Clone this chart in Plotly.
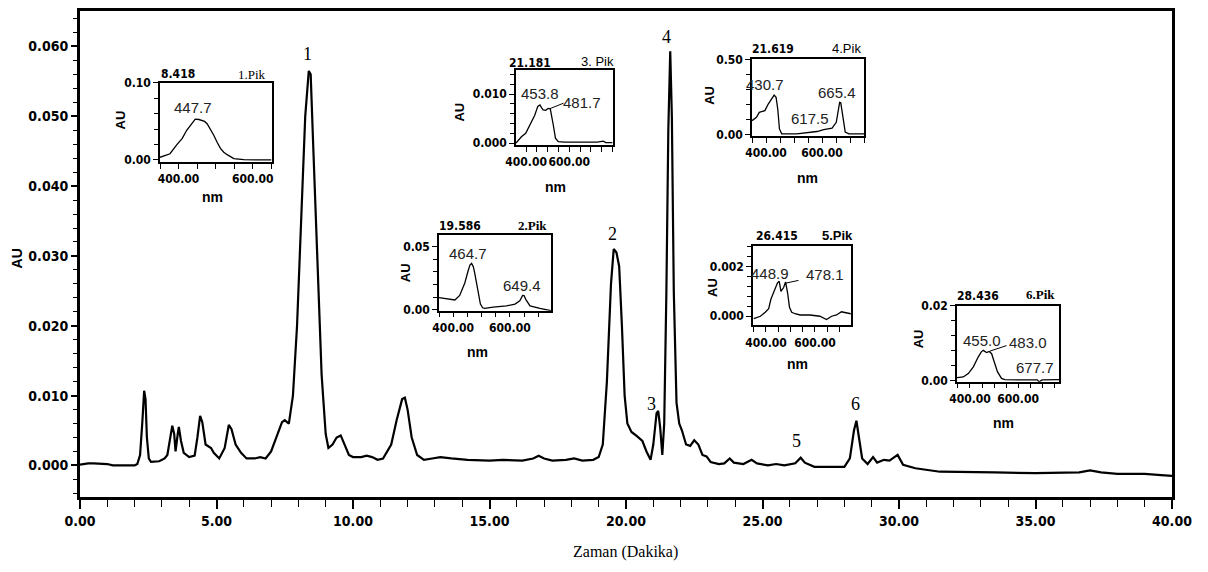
import plotly.graph_objects as go

# ---------------- main chromatogram ----------------
time_min = [0.00, 0.30, 0.50, 1.00, 1.20, 2.00, 2.10, 2.20, 2.28, 2.35, 2.40, 2.45, 2.52, 2.60,
            2.90, 3.10, 3.20, 3.30, 3.38, 3.45, 3.50, 3.58, 3.62, 3.70, 3.80, 4.00, 4.20, 4.30,
            4.40, 4.48, 4.60, 4.80, 4.90, 5.10, 5.30, 5.45, 5.55, 5.70, 5.90, 6.10, 6.40, 6.60,
            6.80, 7.00, 7.20, 7.40, 7.50, 7.65, 7.80, 7.95, 8.10, 8.25, 8.38, 8.45, 8.55, 8.70,
            8.85, 9.00, 9.10, 9.25, 9.40, 9.55, 9.70, 9.85, 10.00, 10.30, 10.50, 10.70, 10.90,
            11.10, 11.40, 11.60, 11.80, 11.90, 12.00, 12.15, 12.35, 12.60, 12.90, 13.20, 13.60,
            14.20, 15.00, 15.50, 16.20, 16.60, 16.80, 17.00, 17.30, 17.80, 18.10, 18.40, 18.80,
            19.00, 19.15, 19.30, 19.45, 19.55, 19.65, 19.75, 19.85, 19.95, 20.05, 20.20, 20.40,
            20.60, 20.75, 20.90, 21.00, 21.12, 21.18, 21.25, 21.33, 21.40, 21.48, 21.55, 21.62,
            21.68, 21.75, 21.85, 21.95, 22.05, 22.20, 22.35, 22.50, 22.65, 22.80, 22.95, 23.10,
            23.40, 23.60, 23.80, 23.95, 24.30, 24.60, 24.80, 25.20, 25.50, 25.80, 26.20, 26.40,
            26.55, 26.90, 27.50, 28.00, 28.20, 28.35, 28.44, 28.52, 28.65, 28.85, 29.05, 29.20,
            29.45, 29.65, 29.95, 30.15, 30.60, 31.50, 32.50, 33.50, 35.00, 36.00, 36.60, 37.00,
            37.40, 38.00, 39.00, 39.60, 40.00]
absorbance = [0.0001, 0.0003, 0.0003, 0.0002, 0.0000, 0.0000, 0.0002, 0.0015, 0.0060, 0.0107,
              0.0095, 0.0040, 0.0010, 0.0005, 0.0006, 0.0010, 0.0015, 0.0040, 0.0057, 0.0045,
              0.0020, 0.0045, 0.0055, 0.0035, 0.0018, 0.0012, 0.0014, 0.0040, 0.0071, 0.0062,
              0.0030, 0.0025, 0.0018, 0.0010, 0.0025, 0.0058, 0.0052, 0.0030, 0.0018, 0.0010,
              0.0010, 0.0012, 0.0010, 0.0020, 0.0040, 0.0062, 0.0065, 0.0060, 0.0100, 0.0200,
              0.0350, 0.0500, 0.0565, 0.0560, 0.0450, 0.0280, 0.0130, 0.0045, 0.0025, 0.0030,
              0.0040, 0.0043, 0.0030, 0.0015, 0.0012, 0.0012, 0.0014, 0.0012, 0.0008, 0.0010,
              0.0030, 0.0065, 0.0095, 0.0097, 0.0080, 0.0040, 0.0015, 0.0008, 0.0010, 0.0012,
              0.0010, 0.0008, 0.0007, 0.0008, 0.0007, 0.0010, 0.0014, 0.0010, 0.0007, 0.0008,
              0.0010, 0.0007, 0.0008, 0.0012, 0.0030, 0.0120, 0.0260, 0.0310, 0.0305, 0.0285,
              0.0200, 0.0100, 0.0060, 0.0048, 0.0042, 0.0035, 0.0020, 0.0008, 0.0030, 0.0075,
              0.0078, 0.0055, 0.0015, 0.0060, 0.0250, 0.0480, 0.0593, 0.0500, 0.0250, 0.0090,
              0.0060, 0.0050, 0.0030, 0.0028, 0.0036, 0.0030, 0.0015, 0.0013, 0.0005, 0.0002,
              0.0003, 0.0010, 0.0004, 0.0002, 0.0008, 0.0003, 0.0000, 0.0002, 0.0000, 0.0003,
              0.0011, 0.0004, -0.0002, -0.0002, -0.0002, 0.0010, 0.0050, 0.0064, 0.0045, 0.0010,
              0.0002, 0.0012, 0.0004, 0.0008, 0.0007, 0.0015, 0.0001, -0.0004, -0.0009, -0.0009,
              -0.0010, -0.0011, -0.0011, -0.0010, -0.0007, -0.0010, -0.0012, -0.0012, -0.0014,
              -0.0015]

x_tick_vals = [0, 5, 10, 15, 20, 25, 30, 35, 40]
x_tick_text = ["0.00", "5.00", "10.00", "15.00", "20.00", "25.00", "30.00", "35.00", "40.00"]
y_tick_vals = [0.0, 0.01, 0.02, 0.03, 0.04, 0.05, 0.06]
y_tick_text = ["0.000", "0.010", "0.020", "0.030", "0.040", "0.050", "0.060"]

peak_ids = ["1", "2", "3", "4", "5", "6"]
peak_label_t = [8.35, 19.49, 20.95, 21.50, 26.23, 28.42]
peak_label_au = [0.0589, 0.0332, 0.0088, 0.0614, 0.0035, 0.0088]

# ---------------- inset UV-Vis spectra ----------------
retention_times = ["8.418", "19.586", "21.181", "21.619", "26.415", "28.436"]
pik_titles = ["1.Pik", "2.Pik", "3. Pik", "4.Pik", "5.Pik", "6.Pik"]

spec1_nm = [350, 377, 395, 410, 422, 435, 445, 455, 463, 470, 477, 486, 495, 504, 513, 522, 531,
            549, 576, 610, 650]
spec1_au = [0.0034, 0.008, 0.0195, 0.028, 0.0385, 0.047, 0.053, 0.0525, 0.051, 0.050, 0.047,
            0.040, 0.032, 0.023, 0.015, 0.010, 0.0068, 0.0017, 0.0003, 0.0, 0.0]

spec2_nm = [350, 388, 406, 423, 441, 453, 459, 465, 471, 476, 482, 488, 496, 504, 512, 541, 588,
            618, 635, 645, 650, 656, 664, 671, 706, 741, 745]
spec2_au = [0.0095, 0.0082, 0.0077, 0.0113, 0.0211, 0.031, 0.0353, 0.0366, 0.034, 0.0289, 0.022,
            0.016, 0.0044, 0.0015, 0.001, 0.002, 0.003, 0.0044, 0.007, 0.0113, 0.0112, 0.0082,
            0.005, 0.003, 0.001, -0.0005, -0.0008]

spec3_nm = [353, 358, 378, 398, 417, 440, 454, 464, 472, 479, 491, 502, 512, 519, 526, 536, 549,
            580, 619, 660, 696, 730, 758, 770, 800]
spec3_au = [0.0, 0.0003, 0.0013, 0.002, 0.0037, 0.0057, 0.0075, 0.0078, 0.0072, 0.0068, 0.0067,
            0.0071, 0.0070, 0.0055, 0.0037, 0.001, 0.0003, 0.0002, 0.0002, 0.0001, 0.0001,
            0.0002, 0.0004, 0.0001, 0.0001]

spec4_nm = [350, 366, 376, 396, 408, 420, 429, 436, 442, 448, 456, 510, 546, 582, 606, 636, 651,
            658, 663, 667, 674, 683, 696, 750]
spec4_au = [0.094, 0.116, 0.149, 0.16, 0.204, 0.237, 0.263, 0.248, 0.171, 0.039, 0.007, 0.007,
            0.013, 0.022, 0.035, 0.044, 0.083, 0.16, 0.215, 0.212, 0.127, 0.018, 0.007, 0.007]

spec5_nm = [350, 357, 377, 397, 411, 420, 434, 447, 454, 461, 472, 480, 488, 496, 505, 519, 539,
            580, 620, 647, 668, 688, 708, 728, 746]
spec5_au = [-0.0001, -0.00008, 0.0, 0.00016, 0.0003, 0.00068, 0.001, 0.00134, 0.0014, 0.001,
            0.00115, 0.00137, 0.00095, 0.00036, 0.00016, 0.0001, 0.00005, 0.00005, 0.0,
            -0.00013, 0.0, 0.00005, 0.00018, 0.00013, 0.0001]

spec6_nm = [346, 372, 393, 414, 434, 447, 455, 462, 469, 480, 490, 501, 514, 531, 545, 600, 662,
            680, 687, 700, 770]
spec6_au = [0.0008, 0.001, 0.0019, 0.0037, 0.0063, 0.0077, 0.0081, 0.0078, 0.0075, 0.0078,
            0.0072, 0.005, 0.0024, 0.0006, 0.0003, 0.0002, 0.0002, 0.0002, -0.0003, 0.0002, 0.0003]

spectra_nm = [spec1_nm, spec2_nm, spec3_nm, spec4_nm, spec5_nm, spec6_nm]
spectra_au = [spec1_au, spec2_au, spec3_au, spec4_au, spec5_au, spec6_au]

inset_y_top = [0.10, 0.05, 0.010, 0.50, 0.002, 0.02]
inset_y_text = [["0.00", "0.10"], ["0.00", "0.05"], ["0.000", "0.010"],
                ["0.00", "0.50"], ["0.000", "0.002"], ["0.00", "0.02"]]
peak_maxima = [["447.7"], ["464.7", "649.4"], ["453.8", "481.7"],
               ["430.7", "665.4", "617.5"], ["448.9", "478.1"], ["455.0", "483.0", "677.7"]]

# ---------------- layout geometry (pixels) ----------------
W, H = 1208, 572
L, R, T, B = 80, 1172, 4, 497


def pxx(x):
    return (x - L) / (R - L)


def pxy(y):
    return (B - y) / (B - T)


# inset boxes: (left, right, top, bottom) in pixels
inset_boxes = [(160, 272, 77, 157), (439, 551, 231, 308), (516, 613, 64, 140),
               (752, 864, 53, 131), (753, 851, 242, 323), (957, 1059, 303, 380)]
inset_xrange = [(350, 652), (350, 745), (353, 803), (350, 750), (347, 747), (346, 770)]
inset_yrange = [(-0.0025, 0.100), (-0.0008, 0.0593), (-0.0004, 0.0149), (-0.009, 0.50),
                (-0.00037, 0.00283), (-0.00026, 0.020)]
inset_yminor = [0.02, 0.01, 0.002, 0.1, 0.0004, 0.004]

# text positions (pixels, centres)
rt_pos = [(178, 68), (460, 222), (530, 57), (773, 43), (777, 232), (978, 293)]
pik_pos = [(252, 68), (532, 222), (597, 55), (847, 42), (837, 232), (1040, 292)]
pik_font = [("Liberation Serif", False), ("Liberation Serif", True), ("Liberation Sans", False),
            ("Liberation Sans", False), ("Liberation Sans", True), ("Liberation Serif", True)]
max_pos = [[(193, 102)], [(468, 250), (522, 282)], [(540, 88), (582, 97)],
           [(765, 79), (837, 87), (810, 113)], [(770, 270), (825, 271)],
           [(982, 338), (1028, 340), (1035, 366)]]
au_pos = [(120, 115), (405, 270), (460, 107), (710, 90), (712, 285), (918, 337)]
nm_pos = [(212, 193), (477, 350), (555, 183), (807, 173), (797, 362), (1003, 422)]

fig = go.Figure()

fig.add_trace(go.Scatter(x=time_min, y=absorbance, mode="lines",
                         line=dict(color="black", width=2.2), showlegend=False,
                         xaxis="x", yaxis="y"))

tick_font = dict(family="DejaVu Sans Condensed, Liberation Sans Narrow, Liberation Sans",
                 size=14, color="black", weight="bold")
small_font = dict(family="DejaVu Sans Condensed, Liberation Sans", size=12, color="black",
                  weight="bold")

layout = dict(
    width=W, height=H,
    margin=dict(l=L, r=W - R, t=T, b=H - B),
    paper_bgcolor="white", plot_bgcolor="white",
    showlegend=False,
    xaxis=dict(domain=[0, 1], range=[0, 40], tickvals=x_tick_vals, ticktext=x_tick_text,
               ticks="outside", ticklen=9, tickwidth=1.5, tickcolor="black",
               showline=True, linecolor="black", linewidth=3, mirror=True,
               showgrid=False, zeroline=False, tickfont=tick_font, tickangle=0,
               minor=dict(dtick=1, tick0=0, ticks="outside", ticklen=7, tickwidth=1.2,
                          tickcolor="black", showgrid=False),
               anchor="y"),
    yaxis=dict(domain=[0, 1], range=[-0.00452, 0.06508], tickvals=y_tick_vals,
               ticktext=y_tick_text, ticks="outside", ticklen=6, tickwidth=1.5,
               tickcolor="black", showline=True, linecolor="black", linewidth=3,
               mirror=True, showgrid=False, zeroline=False, tickfont=tick_font,
               minor=dict(dtick=0.002, tick0=0, ticks="outside", ticklen=4, tickwidth=1.2,
                          tickcolor="black", showgrid=False),
               anchor="x"),
)

annotations = []


def label(x, y, text, font, angle=0):
    return dict(x=pxx(x), y=pxy(y), xref="paper", yref="paper", text=text, showarrow=False,
                xanchor="center", yanchor="middle", textangle=angle, font=font)


for pid, t, a in zip(peak_ids, peak_label_t, peak_label_au):
    annotations.append(dict(x=t, y=a, xref="x", yref="y", text=pid, showarrow=False,
                            xanchor="center", yanchor="middle",
                            font=dict(family="Liberation Serif, Times New Roman", size=18,
                                      color="black")))

annotations.append(label(17, 255, "AU", dict(family="Liberation Sans, Arial", size=14,
                                             color="black", weight="bold"), -90))
annotations.append(label(625, 553, "Zaman (Dakika)",
                         dict(family="Liberation Serif, Times New Roman", size=16,
                              color="black")))

for i in range(6):
    n = i + 2
    xa, ya = f"xaxis{n}", f"yaxis{n}"
    l_, r_, t_, b_ = inset_boxes[i]
    fig.add_trace(go.Scatter(x=spectra_nm[i], y=spectra_au[i], mode="lines",
                             line=dict(color="black", width=1.3), showlegend=False,
                             xaxis=f"x{n}", yaxis=f"y{n}"))
    layout[xa] = dict(domain=[pxx(l_), pxx(r_)], range=list(inset_xrange[i]), anchor=f"y{n}",
                      tickvals=[400, 600], ticktext=["400.00", "600.00"], ticks="outside",
                      ticklen=5, tickwidth=1, tickcolor="black", showline=True,
                      linecolor="black", linewidth=1.5, mirror=True, showgrid=False,
                      zeroline=False, tickfont=small_font, tickangle=0,
                      minor=dict(dtick=50, tick0=350, ticks="outside", ticklen=5, tickwidth=1,
                                 tickcolor="black", showgrid=False))
    layout[ya] = dict(domain=[pxy(b_), pxy(t_)], range=list(inset_yrange[i]), anchor=f"x{n}",
                      tickvals=[0, inset_y_top[i]], ticktext=inset_y_text[i], ticks="outside",
                      ticklen=5, tickwidth=1, tickcolor="black", showline=True,
                      linecolor="black", linewidth=1.5, mirror=True, showgrid=False,
                      zeroline=False, tickfont=small_font,
                      minor=dict(dtick=inset_yminor[i], tick0=0, ticks="outside", ticklen=4,
                                 tickwidth=1, tickcolor="black", showgrid=False))
    annotations.append(label(rt_pos[i][0], rt_pos[i][1], retention_times[i],
                             dict(family="DejaVu Sans Condensed, Liberation Sans", size=12,
                                  color="black", weight="bold")))
    fam, bold = pik_font[i]
    annotations.append(label(pik_pos[i][0], pik_pos[i][1], pik_titles[i],
                             dict(family=fam, size=13, color="black",
                                  weight="bold" if bold else "normal")))
    for txt, pos in zip(peak_maxima[i], max_pos[i]):
        annotations.append(label(pos[0], pos[1], txt,
                                 dict(family="Liberation Sans, Arial", size=15,
                                      color="#222222")))
    annotations.append(label(au_pos[i][0], au_pos[i][1], "AU",
                             dict(family="Liberation Sans, Arial", size=13, color="black",
                                  weight="bold"), -90))
    annotations.append(label(nm_pos[i][0], nm_pos[i][1], "nm",
                             dict(family="Liberation Sans, Arial", size=14, color="black",
                                  weight="bold")))

# leader lines from shoulder maxima to their labels (pixel endpoints)
leaders = [((550, 103), (565, 97)), ((786, 280), (800, 277)), ((990, 349), (1008, 343))]
for (x0, y0), (x1, y1) in leaders:
    annotations.append(dict(x=pxx(x0), y=pxy(y0), xref="paper", yref="paper", text="",
                            showarrow=True, arrowhead=0, arrowwidth=1, arrowcolor="black",
                            ax=x1 - x0, ay=y1 - y0, axref="pixel", ayref="pixel"))

layout["annotations"] = annotations
fig.update_layout(**layout)
fig.write_html("out.html")
